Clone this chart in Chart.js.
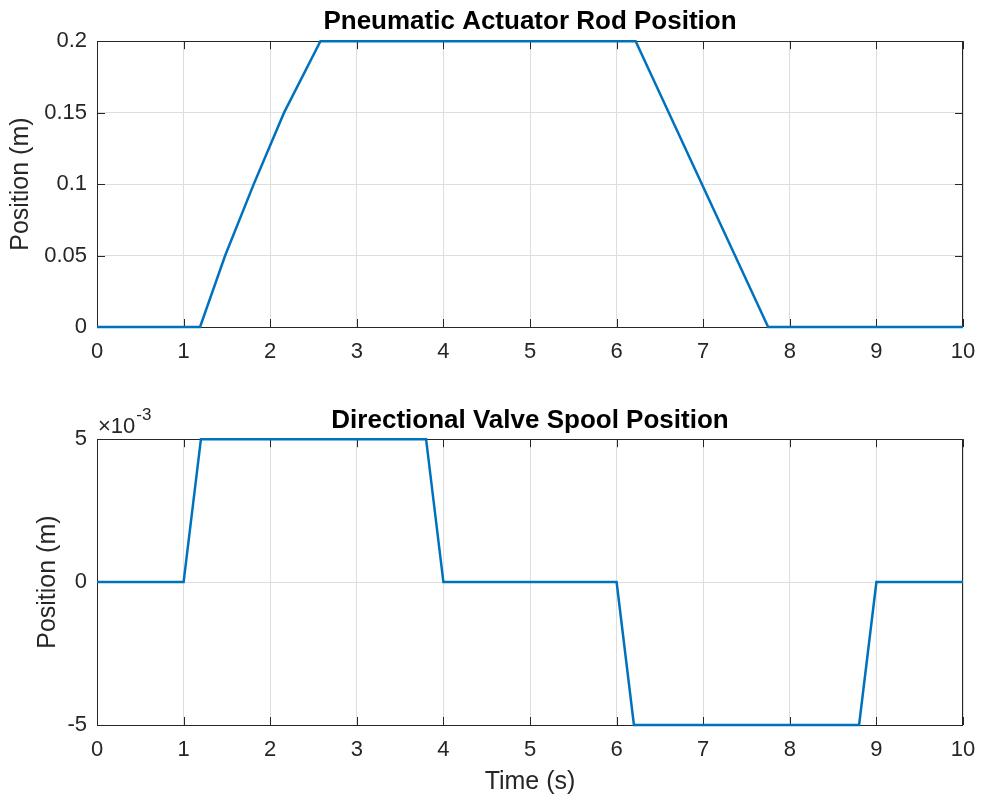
<!DOCTYPE html>
<html>
<head>
<meta charset="utf-8">
<script src="https://cdn.jsdelivr.net/npm/chart.js@4/dist/chart.umd.min.js"></script>
<style>
  body { margin: 0; background: #fff; }
  #wrap { position: relative; width: 982px; height: 802px; }
  canvas { position: absolute; left: 0; }
</style>
</head>
<body>
<div id="wrap">
  <canvas id="rodChart" width="982" height="401" style="top:0"></canvas>
  <canvas id="spoolChart" width="982" height="401" style="top:401px"></canvas>
</div>
<script>
// dados
const rodTime = [0, 1.19, 1.48, 1.81, 2.16, 2.58, 6.22, 7.75, 10];
const rodPos = [0, 0, 0.05, 0.1, 0.15, 0.2, 0.2, 0, 0];
const spoolTime = [0, 1.0, 1.2, 3.8, 4.0, 6.0, 6.2, 8.8, 9.0, 10];
const spoolPos = [0, 0, 0.005, 0.005, 0, 0, -0.005, -0.005, 0, 0];
const timeTicks = [0, 1, 2, 3, 4, 5, 6, 7, 8, 9, 10];
const rodTicks = [0, 0.05, 0.1, 0.15, 0.2];
const spoolTicks = [-0.005, 0, 0.005];

const FONT = "'Liberation Sans', Arial, sans-serif";
const AXIS_COLOR = '#262626';
const LINE_COLOR = '#0072BD';

// caixa estilo MATLAB com ticks para dentro
const matlabBox = {
    id: 'matlabBox',
    afterLayout(chart) {
        // centraliza o título sobre a área dos eixos, como no MATLAB
        const tb = chart.titleBlock;
        if (tb) {
            tb.left = chart.chartArea.left;
            tb.right = chart.chartArea.right;
            tb.width = tb.right - tb.left;
        }
    },
    beforeDatasetsDraw(chart) {
        const { ctx, chartArea: a, scales } = chart;
        ctx.save();
        ctx.strokeStyle = AXIS_COLOR;
        ctx.lineWidth = 1;
        ctx.beginPath();
        scales.x.ticks.forEach(t => {
            const px = Math.round(scales.x.getPixelForValue(t.value)) + 0.5;
            ctx.moveTo(px, a.bottom); ctx.lineTo(px, a.bottom - 8);
            ctx.moveTo(px, a.top); ctx.lineTo(px, a.top + 8);
        });
        scales.y.ticks.forEach(t => {
            const py = Math.round(scales.y.getPixelForValue(t.value)) + 0.5;
            ctx.moveTo(a.left, py); ctx.lineTo(a.left + 8, py);
            ctx.moveTo(a.right, py); ctx.lineTo(a.right - 8, py);
        });
        ctx.stroke();
        ctx.strokeRect(Math.round(a.left) + 0.5, Math.round(a.top) + 0.5,
            Math.round(a.width) - 1, Math.round(a.height));
        ctx.restore();
    }
};

// rótulo do expoente (x10^-3)
const exponentLabel = {
    id: 'exponentLabel',
    afterDraw(chart, args, opts) {
        if (!opts.text) return;
        const { ctx, chartArea: a } = chart;
        ctx.save();
        ctx.fillStyle = AXIS_COLOR;
        ctx.textBaseline = 'alphabetic';
        ctx.font = '22px ' + FONT;
        const base = '\u00d710';
        ctx.fillText(base, a.left + 1, a.top - 6);
        const w = ctx.measureText(base).width;
        ctx.font = '17px ' + FONT;
        ctx.fillText(opts.text, a.left + 2 + w, a.top - 19);
        ctx.restore();
    }
};

function fixedTicks(values) {
    return function (scale) {
        scale.ticks = values.map(v => ({ value: v }));
    };
}

function makeChart(id, cfg) {
    const el = document.getElementById(id);
    const points = cfg.xs.map((x, i) => ({ x: x, y: cfg.ys[i] }));
    return new Chart(el.getContext('2d'), {
        type: 'line',
        data: {
            datasets: [{
                data: points,
                borderColor: LINE_COLOR,
                borderWidth: 2.5,
                pointRadius: 0,
                tension: 0,
                clip: false
            }]
        },
        options: {
            responsive: false,
            animation: false,
            devicePixelRatio: 1,
            layout: { padding: { left: 0, right: 19, top: 0, bottom: 0 } },
            plugins: {
                legend: { display: false },
                tooltip: { enabled: false },
                title: {
                    display: true,
                    text: cfg.title,
                    color: '#000',
                    font: { family: FONT, size: 26, weight: 'bold', lineHeight: 1.2 },
                    padding: cfg.titlePad
                },
                exponentLabel: { text: cfg.exponent || '' }
            },
            scales: {
                x: {
                    type: 'linear',
                    min: 0,
                    max: 10,
                    afterBuildTicks: fixedTicks(timeTicks),
                    afterFit: function (s) {
                        s.height = cfg.xHeight;
                        // o "10" não deve empurrar a área do gráfico
                        s.paddingLeft = 0;
                        s.paddingRight = 0;
                    },
                    grid: { color: '#dedede', drawTicks: false },
                    border: { display: false },
                    ticks: {
                        color: AXIS_COLOR,
                        padding: 12,
                        maxRotation: 0,
                        font: { family: FONT, size: 22 },
                        callback: v => String(v)
                    },
                    title: {
                        display: !!cfg.xTitle,
                        text: cfg.xTitle || '',
                        color: AXIS_COLOR,
                        font: { family: FONT, size: 25, lineHeight: 1.2 },
                        padding: { top: 0, bottom: 5 }
                    }
                },
                y: {
                    type: 'linear',
                    min: cfg.yMin,
                    max: cfg.yMax,
                    afterBuildTicks: fixedTicks(cfg.yTicks),
                    afterFit: function (s) { s.width = 97; },
                    grid: { color: '#dedede', drawTicks: false },
                    border: { display: false },
                    ticks: {
                        color: AXIS_COLOR,
                        padding: 10,
                        font: { family: FONT, size: 22 },
                        callback: cfg.yFormat
                    },
                    title: {
                        display: true,
                        text: 'Position (m)',
                        color: AXIS_COLOR,
                        font: { family: FONT, size: 25, lineHeight: 1.2 },
                        padding: { top: cfg.yTitlePad, bottom: 0 }
                    }
                }
            }
        },
        plugins: [matlabBox, exponentLabel]
    });
}

document.addEventListener('DOMContentLoaded', function () {
    makeChart('rodChart', {
        xs: rodTime,
        ys: rodPos,
        title: 'Pneumatic Actuator Rod Position',
        titlePad: { top: 6, bottom: 4 },
        xHeight: 74,
        yMin: 0,
        yMax: 0.2,
        yTicks: rodTicks,
        yTitlePad: 6,
        yFormat: v => String(+v.toFixed(3))
    });
    makeChart('spoolChart', {
        xs: spoolTime,
        ys: spoolPos,
        title: 'Directional Valve Spool Position',
        titlePad: { top: 4, bottom: 3 },
        xHeight: 77,
        xTitle: 'Time (s)',
        yMin: -0.005,
        yMax: 0.005,
        yTicks: spoolTicks,
        yTitlePad: 33,
        exponent: '-3',
        yFormat: v => String(Math.round(v * 1000))
    });
});
</script>
</body>
</html>
